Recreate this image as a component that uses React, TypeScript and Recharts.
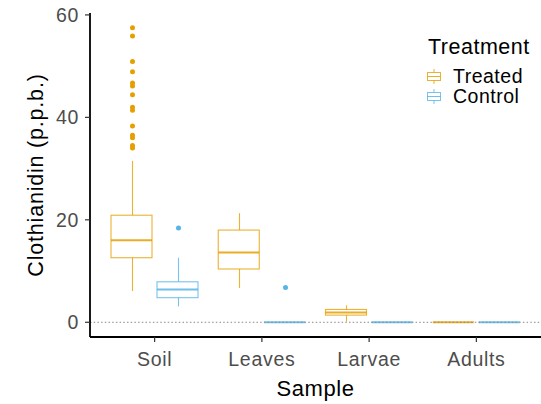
import { ComposedChart, Bar, XAxis, YAxis, ReferenceLine, Legend } from "recharts";

const samples = ["Soil", "Leaves", "Larvae", "Adults"];

// Treated boxplot stats per sample
const treatedLow = [6.1, 6.7, 0.1, 0];
const treatedQ1 = [12.6, 10.4, 1.4, 0];
const treatedMedian = [16.0, 13.6, 1.9, 0];
const treatedQ3 = [20.9, 18.0, 2.5, 0];
const treatedHigh = [31.5, 21.3, 3.3, 0];
const treatedOutliers = [
    [57.5, 55.9, 50.9, 48.9, 46.7, 46.1, 44.4, 42.0, 41.4, 38.3, 36.5, 36.0, 34.5, 34.0],
    [],
    [],
    [],
];

// Control boxplot stats per sample
const controlLow = [3.1, 0, 0, 0];
const controlQ1 = [4.8, 0, 0, 0];
const controlMedian = [6.4, 0, 0, 0];
const controlQ3 = [7.9, 0, 0, 0];
const controlHigh = [12.6, 0, 0, 0];
const controlOutliers = [[18.4], [6.8], [], []];

const yTicks = [0, 20, 40, 60];

const TREATED = "#E69F00";
const CONTROL = "#56B4E9";
const FONT = "'Liberation Sans', Arial, sans-serif";

function stats(low: number[], q1: number[], med: number[], q3: number[], high: number[], out: number[][], i: number) {
    return { low: low[i], q1: q1[i], median: med[i], q3: q3[i], high: high[i], outliers: out[i] };
}

const data = samples.map((sample, i) => {
    const t = stats(treatedLow, treatedQ1, treatedMedian, treatedQ3, treatedHigh, treatedOutliers, i);
    const c = stats(controlLow, controlQ1, controlMedian, controlQ3, controlHigh, controlOutliers, i);
    return {
        sample,
        treated: t,
        control: c,
        treatedRange: [Math.min(t.low, ...t.outliers), Math.max(t.high, ...t.outliers)],
        controlRange: [Math.min(c.low, ...c.outliers), Math.max(c.high, ...c.outliers)],
    };
});

function makeBox(color: string, key: "treated" | "control") {
    return (props: any) => {
        const { x, y, width, height, payload } = props;
        const s = payload[key];
        const [lo, hi] = payload[key + "Range"];
        const top = Math.min(y, y + height);
        const bottom = Math.max(y, y + height);
        const toY = (v: number) => (hi === lo ? top : bottom - ((v - lo) / (hi - lo)) * (bottom - top));
        const cx = Math.round(x + width / 2) + 0.5;
        const yq1 = toY(s.q1);
        const yq3 = toY(s.q3);
        return (
            <g>
                <line x1={cx} x2={cx} y1={toY(s.high)} y2={yq3} stroke={color} strokeOpacity={0.8} strokeWidth={1.1} />
                <line x1={cx} x2={cx} y1={yq1} y2={toY(s.low)} stroke={color} strokeOpacity={0.8} strokeWidth={1.1} />
                <rect x={x} y={yq3} width={width} height={Math.max(yq1 - yq3, 0)} fill="#fff" stroke={color} strokeOpacity={0.8} strokeWidth={1.1} />
                <line x1={x} x2={x + width} y1={toY(s.median)} y2={toY(s.median)} stroke={color} strokeWidth={2} strokeOpacity={0.85} />
                {s.outliers.map((v: number, j: number) => (
                    <circle key={j} cx={cx} cy={toY(v)} r={2.5} fill={color} />
                ))}
            </g>
        );
    };
}

function LegendIcon({ color }: { color: string }) {
    return (
        <svg width={14} height={15} style={{ display: "block" }}>
            <line x1={7} x2={7} y1={0} y2={15} stroke={color} strokeOpacity={0.8} />
            <rect x={0.5} y={3.5} width={13} height={8} fill="#fff" stroke={color} strokeOpacity={0.8} />
            <line x1={0.5} x2={13.5} y1={7.5} y2={7.5} stroke={color} strokeOpacity={0.85} />
        </svg>
    );
}

function TreatmentLegend() {
    const rows = [
        { label: "Treated", color: TREATED },
        { label: "Control", color: CONTROL },
    ];
    return (
        <div style={{ fontFamily: FONT, color: "#000" }}>
            <div style={{ fontSize: 21.5, lineHeight: "24px", marginLeft: 1, letterSpacing: 0.5 }}>Treatment</div>
            <div style={{ marginTop: 7 }}>
                {rows.map((r) => (
                    <div key={r.label} style={{ display: "flex", alignItems: "center", height: 20 }}>
                        <LegendIcon color={r.color} />
                        <span style={{ fontSize: 19.5, lineHeight: "20px", marginLeft: 12, letterSpacing: 0.5 }}>{r.label}</span>
                    </div>
                ))}
            </div>
        </div>
    );
}

export default function App() {
    return (
        <div style={{ position: "absolute", left: 0, top: 0, width: 541, height: 404, background: "#fff" }}>
            <ComposedChart
                width={541}
                height={404}
                data={data}
                margin={{ top: 13, right: 0, bottom: 0, left: 0 }}
                barGap={5}
            >
                <XAxis
                    dataKey="sample"
                    height={67}
                    padding={{ left: 11, right: 11 }}
                    axisLine={{ stroke: "#000", strokeWidth: 1.8 }}
                    tickLine={{ stroke: "#333", strokeWidth: 1.2 }}
                    tickSize={5}
                    tickMargin={10}
                    tick={{ fill: "#4d4d4d", fontSize: 19.5, fontFamily: FONT, letterSpacing: 0.7 }}
                    label={{ value: "Sample", position: "insideBottom", offset: 8, fill: "#000", fontSize: 22, fontFamily: FONT, letterSpacing: 0.6 }}
                />
                <YAxis
                    type="number"
                    domain={[-2.875, 60.375]}
                    ticks={yTicks}
                    width={90}
                    axisLine={{ stroke: "#000", strokeWidth: 1.8 }}
                    tickLine={{ stroke: "#333", strokeWidth: 1.2 }}
                    tickSize={5}
                    tickMargin={6}
                    tick={{ fill: "#4d4d4d", fontSize: 19.5, fontFamily: FONT, letterSpacing: 0.7 }}
                    label={{
                        value: "Clothianidin (p.p.b.)",
                        angle: -90,
                        position: "insideLeft",
                        offset: 35,
                        style: { textAnchor: "middle" },
                        fill: "#000",
                        fontSize: 21.5,
                        fontFamily: FONT,
                        letterSpacing: 0.8,
                    }}
                />
                <ReferenceLine y={0} stroke="#888" strokeDasharray="1.5 2.2" />
                <Bar dataKey="treatedRange" barSize={41} shape={makeBox(TREATED, "treated")} isAnimationActive={false} />
                <Bar dataKey="controlRange" barSize={41} shape={makeBox(CONTROL, "control")} isAnimationActive={false} />
                <Legend
                    layout="vertical"
                    align="center"
                    verticalAlign="middle"
                    content={() => <TreatmentLegend />}
                    wrapperStyle={{ left: 427, top: 35, width: 114, height: "auto" }}
                />
            </ComposedChart>
        </div>
    );
}
